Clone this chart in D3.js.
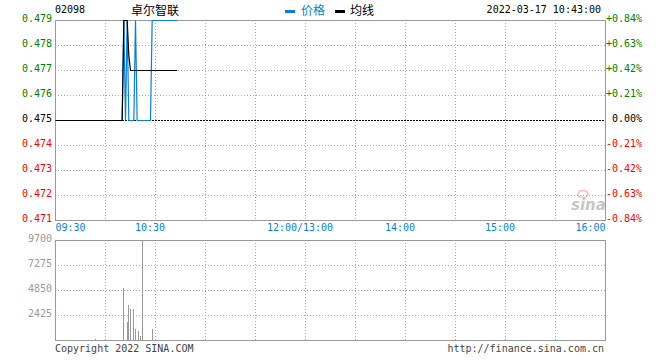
<!DOCTYPE html>
<html><head><meta charset="utf-8">
<script src="https://cdn.jsdelivr.net/npm/d3@7"></script>
<style>body{margin:0;background:#fff} svg{display:block}</style>
</head><body>
<svg id="c" width="660" height="360"></svg>
<script>
const stockCode = "02098";
const stockName = "卓尔智联";
const timestamp = "2022-03-17 10:43:00";
const legendLabels = ["价格", "均线"];
const timeTickMinutes = [0, 60, 150, 210, 270, 330];
const timeTickLabels = ["09:30", "10:30", "12:00/13:00", "14:00", "15:00", "16:00"];
const gridMinutes = [30, 60, 90, 120, 150, 180, 210, 240, 270, 300];
const priceTicks = [0.479, 0.478, 0.477, 0.476, 0.475, 0.474, 0.473, 0.472, 0.471];
const pctLabels = ["+0.84%", "+0.63%", "+0.42%", "+0.21%", "0.00%", "-0.21%", "-0.42%", "-0.63%", "-0.84%"];
const prevClose = 0.475;
const priceMinutes = [0, 40, 41, 42, 43, 44, 47, 48, 49, 57, 58, 73];
const priceValues = [0.475, 0.475, 0.479, 0.475, 0.479, 0.475, 0.475, 0.479, 0.475, 0.475, 0.479, 0.479];
const avgMinutes = [0, 40, 41, 43, 44, 45, 73];
const avgValues = [0.475, 0.475, 0.479, 0.479, 0.4776, 0.477, 0.477];
const volMinutes = [24, 41, 43, 44, 45, 47, 48, 50, 51, 52, 58];
const volValues = [100, 5000, 1750, 3400, 3040, 3040, 1100, 870, 390, 9700, 1040];
const volTicks = [9700, 7275, 4850, 2425];

const MONO = "'DejaVu Sans Mono', 'Liberation Mono', monospace";
const CJK = "'Noto Sans CJK SC', sans-serif";
const BLUE = "#0a7fcf", GREEN = "#008000", RED = "#ff0000", GRAYTXT = "#999";

const svg = d3.select("#c");
const x = d3.scaleLinear().domain([0, 330]).range([55, 605]);
const y = d3.scaleLinear().domain([0.471, 0.479]).range([220, 20]);
const yv = d3.scaleLinear().domain([0, 9700]).range([340, 240]);

// ---------- header ----------
svg.append("text").attr("x", 55).attr("y", 12.5).attr("font-family", MONO).attr("font-size", 10)
  .attr("fill", "#000").text(stockCode);
svg.append("text").attr("x", 131).attr("y", 14.5).attr("font-family", CJK).attr("font-size", 12)
  .attr("fill", "#000").text(stockName);
svg.append("rect").attr("x", 285).attr("y", 10).attr("width", 10).attr("height", 3).attr("fill", BLUE);
svg.append("text").attr("x", 301).attr("y", 14.5).attr("font-family", CJK).attr("font-size", 12)
  .attr("fill", BLUE).text(legendLabels[0]);
svg.append("rect").attr("x", 335).attr("y", 10).attr("width", 10).attr("height", 3).attr("fill", "#000");
svg.append("text").attr("x", 350).attr("y", 14.5).attr("font-family", CJK).attr("font-size", 12)
  .attr("fill", "#000").text(legendLabels[1]);
svg.append("text").attr("x", 601).attr("y", 12.5).attr("text-anchor", "end").attr("font-family", MONO)
  .attr("font-size", 10).attr("fill", "#000").text(timestamp);

// ---------- grids ----------
function grid(yScale, yTicks, y0, y1) {
  const g = svg.append("g").attr("stroke", "#aaa").attr("stroke-dasharray", "1,2")
    .attr("shape-rendering", "crispEdges");
  g.selectAll("line.v").data(gridMinutes).join("line")
    .attr("x1", d => Math.round(x(d)) + 0.5).attr("x2", d => Math.round(x(d)) + 0.5)
    .attr("y1", y0).attr("y2", y1);
  g.selectAll("line.h").data(yTicks).join("line")
    .attr("x1", 55).attr("x2", 605)
    .attr("y1", d => Math.round(yScale(d)) + 0.5).attr("y2", d => Math.round(yScale(d)) + 0.5);
}
grid(y, priceTicks.filter(d => d !== prevClose && d !== 0.479 && d !== 0.471), 20, 220);
grid(yv, volTicks.filter(d => d !== 9700), 240, 340);

// ---------- borders ----------
svg.append("rect").attr("x", 55.5).attr("y", 20.5).attr("width", 550).attr("height", 200)
  .attr("fill", "none").attr("stroke", "#999").attr("shape-rendering", "crispEdges");
svg.append("rect").attr("x", 55.5).attr("y", 240.5).attr("width", 550).attr("height", 100)
  .attr("fill", "none").attr("stroke", "#999").attr("shape-rendering", "crispEdges");

// prev close dashed line
svg.append("line").attr("x1", 56).attr("x2", 605)
  .attr("y1", Math.round(y(prevClose)) + 0.5).attr("y2", Math.round(y(prevClose)) + 0.5)
  .attr("stroke", "#000").attr("stroke-dasharray", "2,1").attr("shape-rendering", "crispEdges");

// watermark
const wm = svg.append("g").attr("opacity", 0.55);
wm.append("ellipse").attr("cx", 583).attr("cy", 194).attr("rx", 5).attr("ry", 3.5)
  .attr("fill", "none").attr("stroke", "#f08080").attr("stroke-width", 1.5);
wm.append("text").attr("x", 571).attr("y", 210).attr("font-family", "'DejaVu Sans', sans-serif")
  .attr("font-size", 15).attr("font-weight", "bold").attr("font-style", "italic")
  .attr("fill", "#999").text("sina");

// ---------- lines ----------
const line = d3.line().x(d => x(d[0])).y(d => y(d[1]));
svg.append("path").datum(priceMinutes.map((m, i) => [m, priceValues[i]]))
  .attr("d", line).attr("fill", "none").attr("stroke", BLUE).attr("stroke-width", 1.2)
  .attr("transform", "translate(0.5,0.5)");
svg.append("path").datum(avgMinutes.map((m, i) => [m, avgValues[i]]))
  .attr("d", line).attr("fill", "none").attr("stroke", "#000").attr("stroke-width", 1.2)
  .attr("transform", "translate(0.5,0.5)");

// ---------- volume bars ----------
svg.append("g").selectAll("line").data(volMinutes.map((m, i) => [m, volValues[i]])).join("line")
  .attr("x1", d => Math.round(x(d[0])) + 0.5).attr("x2", d => Math.round(x(d[0])) + 0.5)
  .attr("y1", 340).attr("y2", d => yv(d[1]))
  .attr("stroke", "#999").attr("shape-rendering", "crispEdges");

// ---------- axes ----------
function styleAxis(g) {
  g.select(".domain").remove();
  g.selectAll(".tick line").remove();
  g.selectAll("text").attr("font-family", MONO).attr("font-size", 10);
}
const leftAx = svg.append("g").attr("transform", "translate(55,0)")
  .call(d3.axisLeft(y).tickValues(priceTicks).tickFormat(d3.format(".3f")).tickSize(0).tickPadding(3));
styleAxis(leftAx);
leftAx.selectAll("text").attr("dy", "0").attr("y", 1)
  .attr("fill", d => d > prevClose ? GREEN : d < prevClose ? RED : "#000");

const rightAx = svg.append("g").attr("transform", "translate(605,0)")
  .call(d3.axisRight(y).tickValues(priceTicks).tickFormat((d, i) => pctLabels[i]).tickSize(0));
styleAxis(rightAx);
rightAx.selectAll("text").attr("dy", "0").attr("y", 1).attr("x", 37).attr("text-anchor", "end")
  .attr("fill", d => d > prevClose ? GREEN : d < prevClose ? RED : "#000");

const timeAx = svg.append("g").attr("transform", "translate(0,220)")
  .call(d3.axisBottom(x).tickValues(timeTickMinutes).tickFormat((d, i) => timeTickLabels[i]).tickSize(0));
styleAxis(timeAx);
timeAx.selectAll("text").attr("dy", "0").attr("y", 11).attr("fill", BLUE)
  .attr("text-anchor", (d, i) => i === 0 ? "start" : i === timeTickMinutes.length - 1 ? "end" : "middle")
  .attr("dx", (d, i) => i === 0 ? 0 : i === timeTickMinutes.length - 1 ? 0 : -5.5);

const volAx = svg.append("g").attr("transform", "translate(55,0)")
  .call(d3.axisLeft(yv).tickValues(volTicks).tickSize(0).tickPadding(3).tickFormat(d3.format("d")));
styleAxis(volAx);
volAx.selectAll("text").attr("dy", "0").attr("y", 1).attr("fill", GRAYTXT);

// ---------- footer ----------
svg.append("text").attr("x", 55).attr("y", 352).attr("font-family", MONO).attr("font-size", 10)
  .attr("fill", "#444").text("Copyright 2022 SINA.COM");
svg.append("text").attr("x", 604).attr("y", 352).attr("text-anchor", "end").attr("font-family", MONO)
  .attr("font-size", 10).attr("fill", "#444").text("http://finance.sina.com.cn");
</script>
</body></html>
